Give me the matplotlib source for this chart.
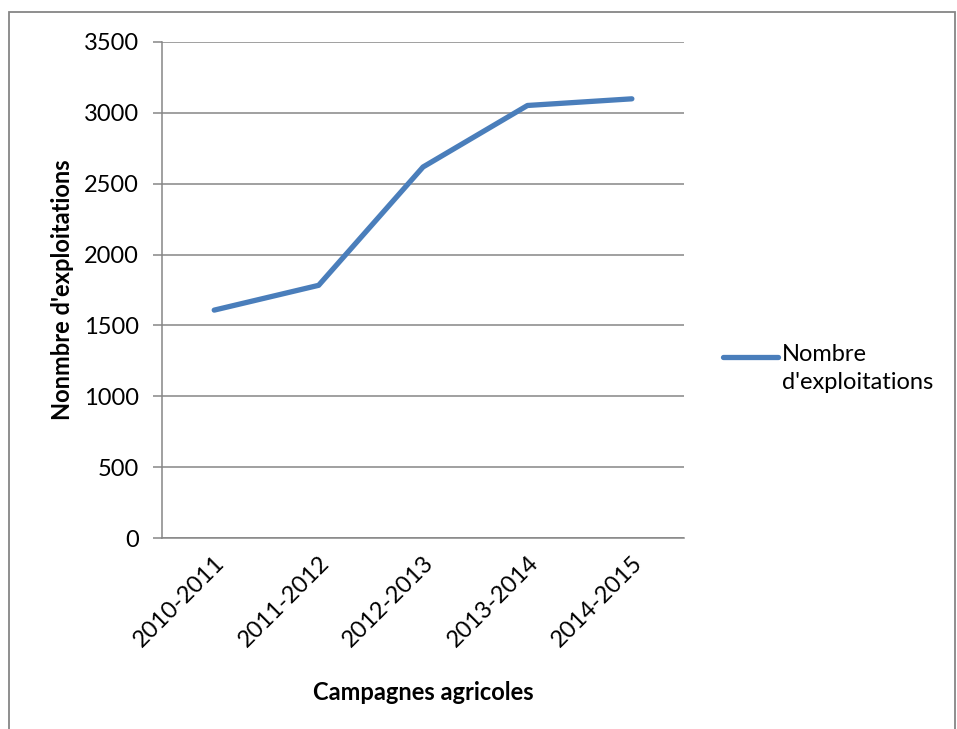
import matplotlib
matplotlib.use('Agg')
import matplotlib.pyplot as plt
from matplotlib.lines import Line2D
from matplotlib.patches import Rectangle

# Nombre d'exploitations par campagne agricole
campagnes = ['2010-2011', '2011-2012', '2012-2013', '2013-2014', '2014-2015']
exploitations = [1608, 1783, 2618, 3052, 3099]
yticks = [0, 500, 1000, 1500, 2000, 2500, 3000, 3500]
serie = "Nombre\nd'exploitations"

plt.rcParams['font.family'] = ['Lato', 'DejaVu Sans']
grey = '#868686'
blue = '#4A7EBB'
fs = 17

fig = plt.figure(figsize=(9.57, 7.29), dpi=100)
ax = fig.add_axes([0.1693, 0.262, 0.5455, 0.6804])

x = list(range(len(campagnes)))
ax.plot(x, exploitations, color=blue, linewidth=3.8, solid_capstyle='round',
        solid_joinstyle='round', zorder=3)

ax.set_xlim(-0.5, len(campagnes) - 0.5)
ax.set_ylim(0, 3500)
ax.set_yticks(yticks)
ax.set_xticks(x)
ax.set_xticklabels(campagnes, rotation=45, ha='right', va='top',
                   rotation_mode='anchor', fontsize=fs)
ax.tick_params(axis='y', labelsize=fs, length=6.5, width=1.1, color=grey, pad=10)
ax.tick_params(axis='x', length=0, pad=10)
ax.grid(axis='y', color=grey, linewidth=1.1)
ax.set_axisbelow(True)

for side in ('top', 'right'):
    ax.spines[side].set_visible(False)
for side in ('left', 'bottom'):
    ax.spines[side].set_color(grey)
    ax.spines[side].set_linewidth(1.1)

ax.set_xlabel('Campagnes agricoles', fontsize=fs, fontweight='bold', labelpad=22)
ax.set_ylabel("Nonmbre d'exploitations", fontsize=fs, fontweight='bold', labelpad=7)

# légende : trait aligné sur la première ligne du libellé
ax.add_line(Line2D([1.075, 1.18], [0.365, 0.365], transform=ax.transAxes,
                   color=blue, linewidth=3.8, solid_capstyle='round', clip_on=False))
ax.text(1.188, 0.392, serie, transform=ax.transAxes, fontsize=fs,
        va='top', ha='left', linespacing=1.45)

# cadre autour du graphique
fig.patches.append(Rectangle((9 / 957, -0.1), 946 / 957, 1.1 - 12 / 729,
                             transform=fig.transFigure, fill=False,
                             edgecolor=grey, linewidth=1.3))

fig.savefig('out.png', dpi=100)
